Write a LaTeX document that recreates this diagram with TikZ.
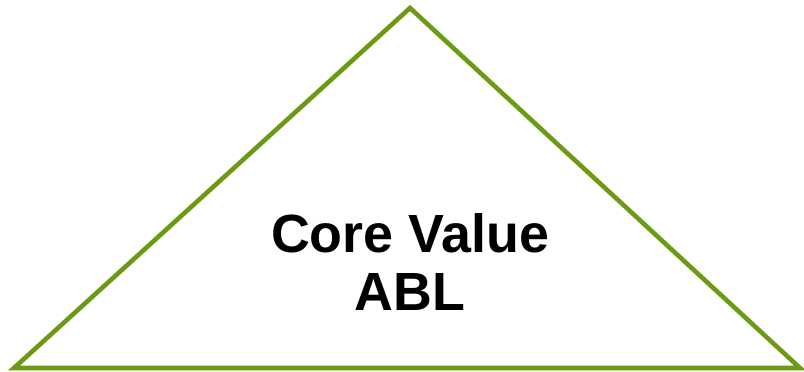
\documentclass[tikz,border=0pt]{standalone}
\usepackage{fontspec}
\setmainfont{Liberation Sans}
\usepackage{xcolor}
\usepackage{tikz}
\definecolor{coregreen}{RGB}{108,154,18}

\begin{document}
\begin{tikzpicture}
    \useasboundingbox (0,0) rectangle (8.04,3.72);

    % Corners of the triangle
    \coordinate (apex) at (4.10,3.64);
    \coordinate (baseL) at (0.14,0.04);
    \coordinate (baseR) at (8.00,0.04);

    % Triangle outline
    \draw[coregreen, line width=1.3pt, line join=miter] (apex) -- (baseR) -- (baseL) -- cycle;

    % Label inside
    \node[align=center, font=\fontsize{15.3}{16.6}\selectfont\bfseries] (core) at (4.10,1.10) {Core Value\\ABL};

\end{tikzpicture}
\end{document}
